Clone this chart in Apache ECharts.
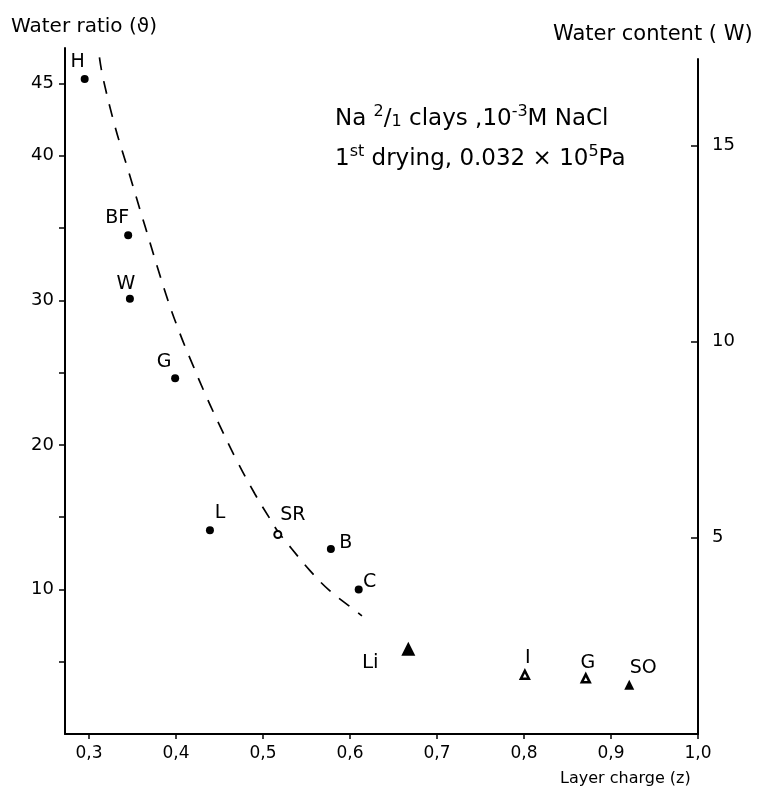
<!DOCTYPE html>
<html><head><meta charset="utf-8">
<script src="https://cdn.jsdelivr.net/npm/echarts@6/dist/echarts.min.js"></script>
<style>html,body{margin:0;padding:0;background:#fff}#c{width:777px;height:797px}</style>
</head><body><div id="c"></div>
<script>
// ---- data ----
const circleNames = ['H', 'BF', 'W', 'G', 'L', 'B', 'C'];
const circleZ = [0.295, 0.345, 0.347, 0.399, 0.439, 0.578, 0.610];
const circleTheta = [45.3, 34.5, 30.1, 24.6, 14.1, 12.8, 10.0];

const openCircleNames = ['SR'];
const openCircleZ = [0.517];
const openCircleTheta = [13.8];

const bigTriNames = ['Li'];
const bigTriZ = [0.667];
const bigTriTheta = [5.9];

const openTriNames = ['I', 'G'];
const openTriZ = [0.801, 0.871];
const openTriTheta = [4.1, 3.85];

const solidTriNames = ['SO'];
const solidTriZ = [0.921];
const solidTriTheta = [3.4];

const curveZ = [0.312, 0.316, 0.330, 0.346, 0.364, 0.3885, 0.4045, 0.4195, 0.4344, 0.4482, 0.470, 0.4907, 0.5068, 0.5172, 0.5332, 0.554, 0.5769, 0.6068, 0.6137];
const curveTheta = [46.8, 45.4, 42.0, 38.8, 35.2, 30.4, 27.7, 25.5, 23.4, 21.6, 18.9, 16.6, 15.0, 14.0, 12.8, 11.3, 9.9, 8.5, 8.17];

const xTicks = [0.3, 0.4, 0.5, 0.6, 0.7, 0.8, 0.9, 1.0];
const leftTicks = [5, 10, 15, 20, 25, 30, 35, 40, 45];
const leftLabels = [10, 20, 30, 40, 45];
const rightTicks = [5, 10, 15];

// ---- styling (label offsets, in px, relative to the mark) ----
const circleLabelOffsets = [[-7, -17], [-11, -17], [-4, -15], [-11, -16], [10, -17], [15, -6], [11, -7]];
const openCircleLabelOffsets = [[15, -19]];
const bigTriLabelOffsets = [[-38, 14]];
const openTriLabelOffsets = [[3, -17], [2, -15]];
const solidTriLabelOffsets = [[14, -17]];

const FONT = 'DejaVu Sans';

function build(names, zs, ths, offs, fs) {
  return names.map((n, i) => ({
    name: n,
    value: [zs[i], ths[i]],
    label: { show: true, position: 'inside', offset: offs[i], formatter: n,
             color: '#000', opacity: 1, fontSize: fs || 19, fontFamily: FONT, align: 'center', verticalAlign: 'middle' }
  }));
}

const chart = echarts.init(document.getElementById('c'), null, { renderer: 'canvas' });
const axisLineStyle = { color: '#000', width: 2 };
const option = {
  backgroundColor: '#fff',
  animation: false,
  grid: [
    { left: 65, right: 79, top: 48, bottom: 63 },
    { left: 65, right: 79, top: 59, bottom: 63 }
  ],
  xAxis: [
    {
      gridIndex: 0, type: 'value', min: 0.2724, max: 1.0,
      axisLine: { show: true, onZero: false, lineStyle: axisLineStyle },
      axisTick: { show: true, length: 5, inside: false, lineStyle: { color: '#000', width: 1.5 }, customValues: xTicks },
      axisLabel: { customValues: xTicks, margin: 11, color: '#000', fontSize: 17, fontFamily: FONT,
                   formatter: v => v.toFixed(1).replace('.', ',') },
      splitLine: { show: false }
    },
    { gridIndex: 1, type: 'value', min: 0, max: 1, show: false }
  ],
  yAxis: [
    {
      gridIndex: 0, type: 'value', min: 0, max: 47.45, position: 'left',
      axisLine: { show: true, onZero: false, lineStyle: axisLineStyle },
      axisTick: { show: true, length: 6, lineStyle: { color: '#000', width: 1.5 }, customValues: leftTicks },
      axisLabel: { customValues: leftLabels, margin: 11, color: '#000', fontSize: 18, fontFamily: FONT },
      splitLine: { show: false }
    },
    {
      gridIndex: 1, type: 'value', min: 0, max: 17.2, position: 'right',
      axisLine: { show: true, onZero: false, lineStyle: axisLineStyle },
      axisTick: { show: true, length: 7, inside: true, lineStyle: { color: '#000', width: 1.5 }, customValues: rightTicks },
      axisLabel: { customValues: rightTicks, margin: 14, color: '#000', fontSize: 18, fontFamily: FONT },
      splitLine: { show: false }
    }
  ],
  series: [
    {
      type: 'line', xAxisIndex: 0, yAxisIndex: 0, smooth: 0.4, symbol: 'none',
      data: curveZ.map((z, i) => [z, curveTheta[i]]),
      lineStyle: { color: '#000', width: 1.7, type: [13, 11] }, z: 1
    },
    {
      type: 'scatter', xAxisIndex: 0, yAxisIndex: 0, symbol: 'circle', symbolSize: 8,
      itemStyle: { color: '#000', opacity: 1 },
      data: build(circleNames, circleZ, circleTheta, circleLabelOffsets)
    },
    {
      type: 'scatter', xAxisIndex: 0, yAxisIndex: 0, symbol: 'circle', symbolSize: 7,
      itemStyle: { color: '#fff', borderColor: '#000', borderWidth: 2, opacity: 1 },
      data: build(openCircleNames, openCircleZ, openCircleTheta, openCircleLabelOffsets)
    },
    {
      type: 'scatter', xAxisIndex: 0, yAxisIndex: 0, symbol: 'triangle', symbolSize: 14,
      itemStyle: { color: '#000', opacity: 1 },
      data: build(bigTriNames, bigTriZ, bigTriTheta, bigTriLabelOffsets, 20)
    },
    {
      type: 'scatter', xAxisIndex: 0, yAxisIndex: 0, symbol: 'triangle', symbolSize: 8,
      itemStyle: { color: '#fff', borderColor: '#000', borderWidth: 2.5, opacity: 1 },
      data: build(openTriNames, openTriZ, openTriTheta, openTriLabelOffsets)
    },
    {
      type: 'scatter', xAxisIndex: 0, yAxisIndex: 0, symbol: 'triangle', symbolSize: 10,
      itemStyle: { color: '#000', opacity: 1 },
      data: build(solidTriNames, solidTriZ, solidTriTheta, solidTriLabelOffsets)
    }
  ],
  graphic: [
    { type: 'text', left: 11, top: 17, style: { text: 'Water ratio (ϑ)', fill: '#000', font: '20px "DejaVu Sans"' } },
    { type: 'text', left: 553, top: 24, style: { text: 'Water content ( W)', fill: '#000', font: '21px "DejaVu Sans"' } },
    { type: 'text', left: 560, top: 771, style: { text: 'Layer charge (z)', fill: '#000', font: '16px "DejaVu Sans"' } },
    { type: 'text', left: 335, top: 104, style: {
        text: '{n|Na }{sup|2}{n|/}{sub|1}{n| clays ,10}{sup|-3}{n|M NaCl}',
        rich: {
          n: { fontSize: 23, fontFamily: FONT, color: '#000' },
          sup: { fontSize: 16, fontFamily: FONT, color: '#000', padding: [0, 0, 14, 0] },
          sub: { fontSize: 16, fontFamily: FONT, color: '#000', padding: [6, 0, 0, 0] }
        } } },
    { type: 'text', left: 335, top: 144, style: {
        text: '{n|1}{sup|st}{n| drying, 0.032 × 10}{sup|5}{n|Pa}',
        rich: {
          n: { fontSize: 23, fontFamily: FONT, color: '#000' },
          sup: { fontSize: 16, fontFamily: FONT, color: '#000', padding: [0, 0, 14, 0] }
        } } }
  ]
};
chart.setOption(option);
</script>
</body></html>
